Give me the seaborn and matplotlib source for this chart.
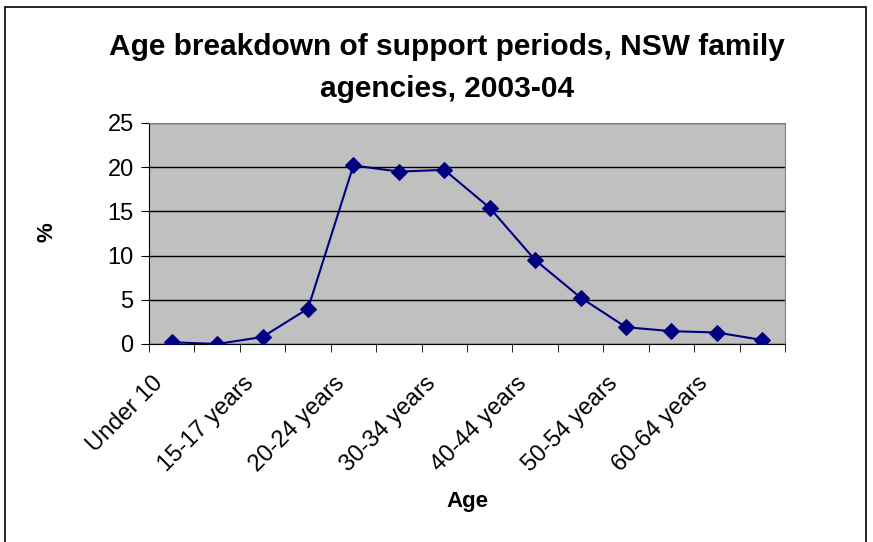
import matplotlib
matplotlib.use("Agg")
import matplotlib.pyplot as plt
import seaborn as sns
import pandas as pd
from matplotlib.patches import Rectangle
from matplotlib.ticker import FixedLocator
from matplotlib.transforms import ScaledTranslation

categories = ["Under 10", "10-14 years", "15-17 years", "18-19 years", "20-24 years",
              "25-29 years", "30-34 years", "35-39 years", "40-44 years", "45-49 years",
              "50-54 years", "55-59 years", "60-64 years", "65+ years"]
percent = [0.2, 0.0, 0.8, 4.0, 20.2, 19.5, 19.7, 15.4, 9.5, 5.25, 1.9, 1.45, 1.3, 0.45]
y_ticks = [0, 5, 10, 15, 20, 25]
title = "Age breakdown of support periods, NSW family\nagencies, 2003-04"

plt.rcParams['font.family'] = ['Liberation Sans', 'DejaVu Sans']

df = pd.DataFrame({"pos": range(len(categories)), "age": categories, "pct": percent})

W, H = 873, 542
fig = plt.figure(figsize=(W / 100, H / 100), dpi=100)
ax = fig.add_axes([149 / W, 1 - 344 / H, 636 / W, 221 / H])

# outer frame
fig.patches.append(Rectangle((5 / W, -0.05), 861 / W, 1 - 7 / H + 0.05, transform=fig.transFigure,
                             fill=False, edgecolor='black', linewidth=1.2))

ax.set_facecolor('#C0C0C0')
sns.lineplot(data=df, x="pos", y="pct", ax=ax, color='#000080', marker='D',
             markersize=8, markeredgecolor='#000080', linewidth=1.5, zorder=3)

ax.set_xlim(-0.5, len(categories) - 0.5)
ax.set_ylim(0, 25)
ax.set_yticks(y_ticks)
ax.yaxis.grid(True, color='black', linewidth=1)
ax.set_axisbelow(True)

label_pos = list(range(0, len(categories), 2))
ax.set_xticks(label_pos)
ax.set_xticklabels([categories[i] for i in label_pos], rotation=45, ha='right', va='center',
                   rotation_mode='anchor', fontsize=17)
ax.tick_params(axis='x', length=0, pad=0)
offset = ScaledTranslation(-12 / 100, -36 / 100, fig.dpi_scale_trans)
for lab in ax.get_xticklabels():
    lab.set_transform(lab.get_transform() + offset)
ax.xaxis.set_minor_locator(FixedLocator([i - 0.5 for i in range(len(categories) + 1)]))
ax.tick_params(axis='x', which='minor', length=6, direction='out', color='black')
ax.tick_params(axis='y', length=6, direction='out', labelsize=17, color='black', pad=5)

for s in ['top', 'right']:
    ax.spines[s].set_color('#808080')
for s in ['left', 'bottom']:
    ax.spines[s].set_color('black')

ax.set_xlabel("Age", fontsize=16, fontweight='bold')
ax.xaxis.set_label_coords((467 - 149) / 636, (344 - 502) / 221)
ax.xaxis.label.set_va('center')
ax.set_ylabel("%", fontsize=16, fontweight='bold')
ax.yaxis.set_label_coords((47 - 149) / 636, (344 - 232) / 221)
ax.yaxis.label.set_va('center')
ax.yaxis.label.set_ha('center')

fig.text(447 / W, 1 - 68 / H, title, ha='center', va='center', fontsize=21.5,
         fontweight='bold', linespacing=1.65)

fig.savefig("out.png", dpi=100)
